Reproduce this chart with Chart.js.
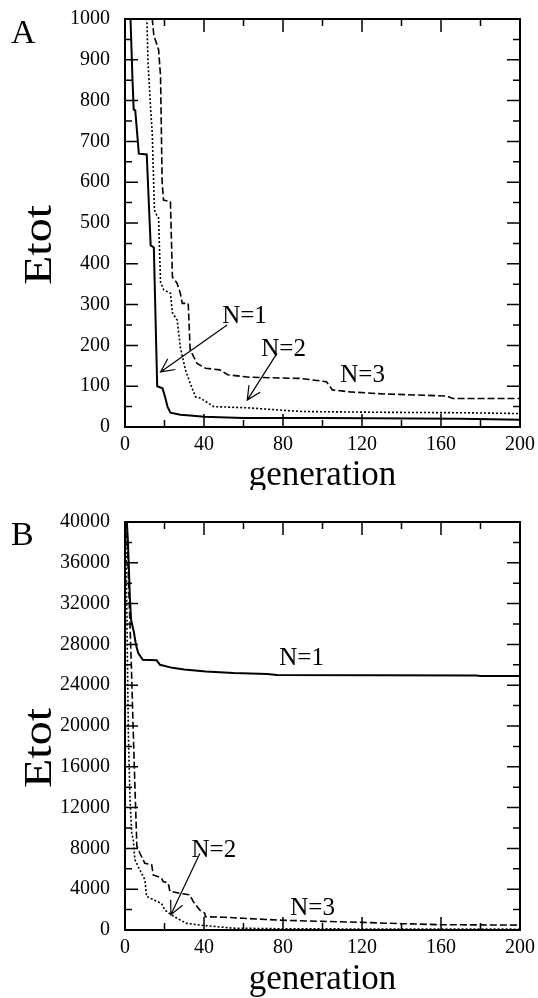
<!DOCTYPE html>
<html>
<head>
<meta charset="utf-8">
<script src="https://cdn.jsdelivr.net/npm/chart.js@4/dist/chart.umd.min.js"></script>
<style>
  html, body { margin: 0; padding: 0; background: #fff; }
  canvas { display: block; }
</style>
</head>
<body>
<canvas id="chartA" width="538" height="490"></canvas>
<canvas id="chartB" width="538" height="508"></canvas>
<script>
// Panel A: generation vs Etot
const genA1 = [2.6, 2.8, 3.8, 4.4, 5.2, 7, 11, 13, 14.6, 16.3, 19, 20.5, 21.5, 23, 28, 33, 40, 60, 100, 170, 200];
const etotA1 = [1100, 1000, 850, 778, 776, 670, 668, 445, 440, 100, 95, 70, 50, 35, 30, 28, 25, 22, 22, 20, 18];

const genA2 = [11, 11.1, 11.6, 12.9, 13.8, 14.9, 16, 17, 18, 19.6, 23, 24, 26.4, 28, 30.6, 33, 35.7, 38, 45, 62, 89, 130, 170, 200];
const etotA2 = [1100, 1000, 900, 785, 720, 532, 520, 512, 355, 336, 328, 280, 262, 196, 140, 107, 74, 71, 50, 47, 38, 36, 35, 33];

const genA3 = [13.7, 13.8, 14.6, 17, 18, 18.8, 19.5, 23, 24, 26.4, 28, 29, 32, 33, 36.5, 40.8, 48, 52, 63, 89, 102, 105, 114, 131, 163, 166, 200];
const etotA3 = [1100, 1000, 960, 925, 860, 600, 556, 552, 368, 352, 328, 303, 303, 189, 156, 144, 140, 128, 122, 119, 111, 91, 86, 81, 76, 70, 70];

// Panel B
const genB1 = [0.8, 1.5, 2.5, 3.1, 3.5, 4.5, 5.5, 6.7, 9, 16, 17.7, 24, 30, 41, 55, 72, 77, 178, 180, 200];
const etotB1 = [40500, 38000, 32500, 30400, 30400, 29200, 28000, 27150, 26500, 26450, 26000, 25700, 25550, 25350, 25200, 25100, 25000, 24950, 24900, 24900];

const genB2 = [0.3, 1, 1.7, 2.5, 3.4, 4.2, 5, 6.7, 10.1, 10.9, 15.2, 18.5, 20.2, 23.6, 27.8, 31.2, 37.9, 54.7, 80, 120, 200];
const etotB2 = [41000, 30000, 19300, 13000, 9500, 8800, 6900, 6200, 4900, 3300, 2900, 2600, 1950, 1450, 1000, 650, 480, 180, 120, 100, 80];

const genB3 = [0.6, 2, 3.2, 4.2, 5.2, 5.8, 6, 7.6, 10, 13.5, 14.3, 18.5, 19.3, 21.9, 22.7, 27.8, 32.8, 34.5, 37.9, 40.4, 40.6, 50, 60, 80, 100, 120, 140, 160, 200];
const etotB3 = [41000, 33000, 26000, 19300, 13000, 9500, 8200, 7500, 6550, 6400, 5400, 5100, 4750, 4600, 3800, 3600, 3450, 2800, 1950, 1650, 1300, 1250, 1150, 950, 850, 750, 620, 520, 480];

const seriesNames = ['N=1', 'N=2', 'N=3'];

// annotation labels and arrows, in data units
const notesA = [
  { text: 'N=1', x: 60.5, y: 272 },
  { text: 'N=2', x: 80.3, y: 191 },
  { text: 'N=3', x: 120.3, y: 127 }
];
const arrowsA = [
  { x1: 51.7, y1: 250, x2: 18, y2: 135 },
  { x1: 77, y1: 181, x2: 61.9, y2: 66 }
];
const notesB = [
  { text: 'N=1', x: 89.4, y: 26670 },
  { text: 'N=2', x: 45, y: 7840 },
  { text: 'N=3', x: 95, y: 2150 }
];
const arrowsB = [
  { x1: 37.9, y1: 7500, x2: 23.2, y2: 1500 }
];

const serif = 'Liberation Serif, Times New Roman, serif';

function pts(xs, ys) {
  return xs.map((v, i) => ({ x: v, y: ys[i] }));
}

const frameTicks = {
  id: 'frameTicks',
  afterDraw(chart, args, o) {
    const { ctx, chartArea: a } = chart;
    const x = chart.scales.x, y = chart.scales.y;
    ctx.save();
    ctx.strokeStyle = '#000';
    ctx.fillStyle = '#000';
    ctx.lineWidth = 2;
    ctx.strokeRect(a.left, a.top, a.right - a.left, a.bottom - a.top);
    ctx.lineWidth = 1.5;
    ctx.beginPath();
    for (let v = x.min; v <= x.max + 1e-6; v += o.xMinor) {
      const len = Math.abs(v / o.xMajor - Math.round(v / o.xMajor)) < 1e-6 ? 13 : 7;
      const px = x.getPixelForValue(v);
      ctx.moveTo(px, a.bottom); ctx.lineTo(px, a.bottom - len);
      ctx.moveTo(px, a.top); ctx.lineTo(px, a.top + len);
    }
    for (let v = y.min; v <= y.max + 1e-6; v += o.yMinor) {
      const len = Math.abs(v / o.yMajor - Math.round(v / o.yMajor)) < 1e-6 ? 13 : 7;
      const py = y.getPixelForValue(v);
      ctx.moveTo(a.left, py); ctx.lineTo(a.left + len, py);
      ctx.moveTo(a.right, py); ctx.lineTo(a.right - len, py);
    }
    ctx.stroke();

    // annotations
    ctx.font = '25px ' + serif;
    ctx.textAlign = 'center';
    ctx.textBaseline = 'middle';
    o.notes.forEach(n => ctx.fillText(n.text, x.getPixelForValue(n.x), y.getPixelForValue(n.y)));
    ctx.lineWidth = 1.2;
    o.arrows.forEach(r => {
      const x1 = x.getPixelForValue(r.x1), y1 = y.getPixelForValue(r.y1);
      const x2 = x.getPixelForValue(r.x2), y2 = y.getPixelForValue(r.y2);
      const ang = Math.atan2(y2 - y1, x2 - x1);
      ctx.beginPath();
      ctx.moveTo(x1, y1); ctx.lineTo(x2, y2);
      ctx.moveTo(x2 - 15 * Math.cos(ang - 0.45), y2 - 15 * Math.sin(ang - 0.45));
      ctx.lineTo(x2, y2);
      ctx.lineTo(x2 - 15 * Math.cos(ang + 0.45), y2 - 15 * Math.sin(ang + 0.45));
      ctx.stroke();
    });

    // y axis title, sits a bit below the middle of the axis
    ctx.save();
    ctx.translate(40, (a.top + a.bottom) / 2 + 22);
    ctx.rotate(-Math.PI / 2);
    ctx.scale(1.2, 1);
    ctx.font = '40px ' + serif;
    ctx.textAlign = 'center';
    ctx.textBaseline = 'middle';
    ctx.fillText('Etot', 0, 0);
    ctx.restore();

    // panel letter
    ctx.font = '34px ' + serif;
    ctx.textAlign = 'left';
    ctx.textBaseline = 'alphabetic';
    ctx.fillText(o.letter, 11, o.letterY);
    ctx.restore();
  }
};

function makeChart(id, data, yMax, yStep, pad, xHeight, titleBottom, extra) {
  return new Chart(document.getElementById(id), {
    type: 'scatter',
    data: {
      datasets: [
        { label: seriesNames[0], data: data[0], showLine: true, pointRadius: 0, borderColor: '#000', borderWidth: 2, tension: 0 },
        { label: seriesNames[1], data: data[1], showLine: true, pointRadius: 0, borderColor: '#000', borderWidth: 1.6, borderDash: [2, 2], tension: 0 },
        { label: seriesNames[2], data: data[2], showLine: true, pointRadius: 0, borderColor: '#000', borderWidth: 1.6, borderDash: [7, 3], tension: 0 }
      ]
    },
    options: {
      responsive: false,
      animation: false,
      devicePixelRatio: 1,
      layout: { padding: { top: pad, right: 18, left: 0, bottom: 0 } },
      plugins: {
        legend: { display: false },
        tooltip: { enabled: false },
        frameTicks: extra
      },
      scales: {
        x: {
          type: 'linear', min: 0, max: 200,
          grid: { display: false, drawTicks: false },
          border: { display: false },
          ticks: { stepSize: 40, autoSkip: false, maxRotation: 0, padding: 8, color: '#000', font: { family: serif, size: 20, lineHeight: 1 }, callback: v => String(v) },
          title: { display: true, text: 'generation', color: '#000', font: { family: serif, size: 35, lineHeight: 0.8 }, padding: { top: 0, bottom: titleBottom } },
          afterFit(s) { s.height = xHeight; s.paddingLeft = 0; s.paddingRight = 0; }
        },
        y: {
          min: 0, max: yMax,
          grid: { display: false, drawTicks: false },
          border: { display: false },
          ticks: { stepSize: yStep, autoSkip: false, padding: 15, color: '#000', font: { family: serif, size: 20, lineHeight: 1 }, callback: v => String(v) },
          title: { display: false, text: 'Etot' },
          afterFit(s) { s.width = 125; s.paddingTop = 0; s.paddingBottom = 0; }
        }
      }
    },
    plugins: [frameTicks]
  });
}

makeChart('chartA',
  [pts(genA1, etotA1), pts(genA2, etotA2), pts(genA3, etotA3)],
  1000, 100, 19, 63, 0,
  { xMinor: 20, xMajor: 40, yMinor: 50, yMajor: 100, notes: notesA, arrows: arrowsA, letter: 'A', letterY: 43 });

makeChart('chartB',
  [pts(genB1, etotB1), pts(genB2, etotB2), pts(genB3, etotB3)],
  40000, 4000, 32, 68, 4,
  { xMinor: 20, xMajor: 40, yMinor: 2000, yMajor: 4000, notes: notesB, arrows: arrowsB, letter: 'B', letterY: 545 - 490 });
</script>
</body>
</html>
